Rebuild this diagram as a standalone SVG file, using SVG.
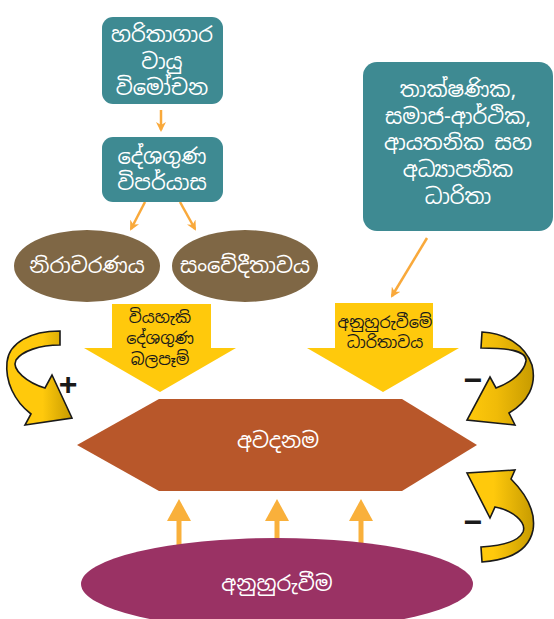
<svg xmlns="http://www.w3.org/2000/svg" width="554" height="619" viewBox="0 0 554 619">
<defs>
<style>
.t{font-family:"Noto Sans Sinhala","Iskoola Pota","Noto Sans",sans-serif;text-anchor:middle}
.w{fill:#ffffff;font-size:21px}
.b{fill:#1a1a1a;font-size:16px}
.teal{fill:#3e8a92}
.brown{fill:#7f6745}
.conn{stroke:#f9a93b;stroke-width:2.5;fill:none}
.up{stroke:#f9b03b;stroke-width:5;fill:none}
.curl{stroke:#1a1a1a;stroke-width:1.6;stroke-linejoin:miter}
.sign{font-family:"Liberation Sans",Arial,sans-serif;font-weight:bold;font-size:32px;fill:#1a1a1a;text-anchor:middle}
</style>
<marker id="ah" viewBox="0 0 10 10" refX="8" refY="5" markerWidth="4" markerHeight="4" orient="auto" markerUnits="strokeWidth">
<path d="M0,0 L10,5 L0,10 L3,5 Z" fill="#f9a93b"/>
</marker>
<marker id="ahu" viewBox="0 0 22 24" refX="2" refY="12" markerWidth="22" markerHeight="24" orient="auto" markerUnits="userSpaceOnUse">
<path d="M0,0 L22,12 L0,24 Z" fill="#f9b03b"/>
</marker>
<linearGradient id="gL" x1="0" y1="0" x2="1" y2="0">
<stop offset="0" stop-color="#ffc90c"/>
<stop offset="0.55" stop-color="#ffc90c"/>
<stop offset="1" stop-color="#c79b00"/>
</linearGradient>
<linearGradient id="gR" x1="0" y1="0" x2="1" y2="0">
<stop offset="0" stop-color="#ffc90c"/>
<stop offset="0.45" stop-color="#f0bb08"/>
<stop offset="1" stop-color="#c79b00"/>
</linearGradient>
<linearGradient id="gB" x1="0" y1="0" x2="1" y2="0">
<stop offset="0" stop-color="#ffc90c"/>
<stop offset="0.4" stop-color="#ffc90c"/>
<stop offset="1" stop-color="#c79b00"/>
</linearGradient>
</defs>

<g id="connectors">
<line class="conn" x1="161" y1="110" x2="161" y2="130" stroke-width="1.6" marker-end="url(#ah)"/>
<line class="conn" x1="145" y1="202" x2="131" y2="229" marker-end="url(#ah)"/>
<line class="conn" x1="180" y1="202" x2="195" y2="229" marker-end="url(#ah)"/>
<line class="conn" x1="427" y1="238" x2="392" y2="296" marker-end="url(#ah)"/>
<line class="up" x1="179" y1="545" x2="179" y2="519" marker-end="url(#ahu)"/>
<line class="up" x1="277" y1="545" x2="277" y2="519" marker-end="url(#ahu)"/>
<line class="up" x1="361" y1="545" x2="361" y2="519" marker-end="url(#ahu)"/>
</g>

<g id="ghg">
<rect class="teal" x="102" y="17" width="121" height="87" rx="11"/>
<text class="t w" x="162" y="42">හරිතාගාර</text>
<text class="t w" x="162" y="69">වායු</text>
<text class="t w" x="162" y="95">විමෝචන</text>
</g>

<g id="climate">
<rect class="teal" x="102" y="137" width="121" height="65" rx="11"/>
<text class="t w" x="162" y="164">දේශගුණ</text>
<text class="t w" x="162" y="190">විපර්යාස</text>
</g>

<g id="exposure">
<ellipse class="brown" cx="87" cy="266" rx="73" ry="36"/>
<text class="t w" x="87" y="273" font-size="22">නිරාවරණය</text>
</g>

<g id="sensitivity">
<ellipse class="brown" cx="245" cy="266" rx="73" ry="36"/>
<text class="t w" x="245" y="273" font-size="22">සංවේදීතාවය</text>
</g>

<g id="capacity">
<rect class="teal" x="363" y="62" width="190" height="169" rx="14"/>
<text class="t w" x="458" y="97">තාක්ෂණික,</text>
<text class="t w" x="458" y="124">සමාජ-ආර්ථික,</text>
<text class="t w" x="458" y="150">ආයතනික සහ</text>
<text class="t w" x="458" y="177">අධ්‍යාපනික</text>
<text class="t w" x="458" y="204">ධාරිතා</text>
</g>

<g id="impacts">
<polygon points="112,304 211,304 211,348 236,348 160,392 84,348 112,348" fill="#ffc90c"/>
<text class="t b" x="160" y="323">වියහැකි</text>
<text class="t b" x="160" y="344">දේශගුණ</text>
<text class="t b" x="160" y="365">බලපෑම්</text>
</g>

<g id="adaptive">
<polygon points="335,303 433,303 433,348 459,348 383,392 307,348 335,348" fill="#ffc90c"/>
<text class="t b" x="385" y="328">අනුහුරුවීමේ</text>
<text class="t b" x="385" y="348">ධාරිතාවය</text>
</g>

<g id="risk">
<polygon points="77,445 159,399 402,399 477,445 402,491 159,491" fill="#b8572a"/>
<text class="t w" x="278" y="448" font-size="22">අවදනම</text>
</g>

<g id="adaptation">
<ellipse cx="277" cy="584" rx="196" ry="46" fill="#9a3264"/>
<text class="t w" x="277" y="591" font-size="22">අනුහුරුවීම</text>
</g>

<g id="loop-plus">
<path class="curl" fill="url(#gL)" d="M60,331 L60,345 C40,345 22,351 16,360 C11,370 28,383 45,388 L52,375 L72,418 L25,425 L31,414 C14,401 5,381 7,362 C9,343 30,331 60,331 Z"/>
<text class="sign" x="68" y="395" font-size="38">+</text>
</g>

<g id="loop-minus-top">
<path class="curl" fill="url(#gR)" d="M482,332 C505,333 525,345 532,365 C537,385 528,402 509,413 L515,425 L467,420 L490,377 L496,388 C512,382 524,372 526,361 C527,350 505,348 481,348 Z"/>
<text class="sign" x="473" y="391">−</text>
</g>

<g id="loop-minus-bottom">
<path class="curl" fill="url(#gB)" d="M481,547 C500,546 518,542 523,532 C527,522 512,510 495,507 L490,518 L467,473 L515,470 L511,479 C527,495 536,512 533,530 C529,550 510,560 482,562 Z"/>
<text class="sign" x="473" y="533">−</text>
</g>
</svg>
